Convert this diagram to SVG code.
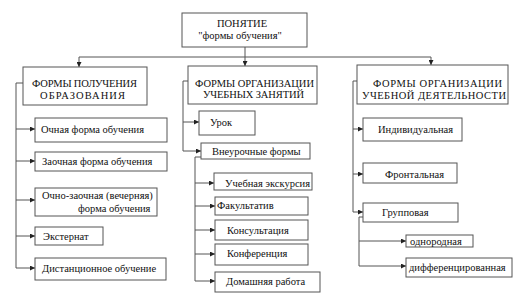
<svg xmlns="http://www.w3.org/2000/svg" width="516" height="300" viewBox="0 0 516 300">
<style>
.b{fill:#fff;stroke:#555;stroke-width:1}
.t{font-family:"Liberation Serif","DejaVu Serif",serif;font-size:10.5px;fill:#111}
.c{fill:none;stroke:#555;stroke-width:1}
</style>
<defs>
<marker id="ar" viewBox="0 0 6 6" refX="6" refY="3" markerWidth="5" markerHeight="5" orient="auto" markerUnits="userSpaceOnUse">
<path d="M0,0L6,3L0,6z" fill="#222"/>
</marker>
</defs>
<rect width="516" height="300" fill="#fff"/>
<g id="connectors">
<path class="c" d="M245,47V57"/>
<path class="c" d="M79,57H431"/>
<path class="c" d="M79,57V67" marker-end="url(#ar)"/>
<path class="c" d="M245,57V66" marker-end="url(#ar)"/>
<path class="c" d="M431,57V65" marker-end="url(#ar)"/>
<path class="c" d="M23,83H16V268"/>
<path class="c" d="M16,129H35" marker-end="url(#ar)"/>
<path class="c" d="M16,161H35" marker-end="url(#ar)"/>
<path class="c" d="M16,200H35" marker-end="url(#ar)"/>
<path class="c" d="M16,236H35" marker-end="url(#ar)"/>
<path class="c" d="M16,268H35" marker-end="url(#ar)"/>
<path class="c" d="M188,81H183V151"/>
<path class="c" d="M183,122H199" marker-end="url(#ar)"/>
<path class="c" d="M183,151H201" marker-end="url(#ar)"/>
<path class="c" d="M201,157H195V281"/>
<path class="c" d="M195,183H214" marker-end="url(#ar)"/>
<path class="c" d="M195,206H215" marker-end="url(#ar)"/>
<path class="c" d="M195,230H215" marker-end="url(#ar)"/>
<path class="c" d="M195,254H215" marker-end="url(#ar)"/>
<path class="c" d="M195,281H215" marker-end="url(#ar)"/>
<path class="c" d="M357,81H353V212"/>
<path class="c" d="M353,129H363" marker-end="url(#ar)"/>
<path class="c" d="M353,174H363" marker-end="url(#ar)"/>
<path class="c" d="M353,212H363" marker-end="url(#ar)"/>
<path class="c" d="M363,217H359V266"/>
<path class="c" d="M359,241H406" marker-end="url(#ar)"/>
<path class="c" d="M359,266H406" marker-end="url(#ar)"/>
</g>
<g id="root"><rect class="b" x="182" y="13" width="125" height="34"/>
<text class="t" x="242" y="27" text-anchor="middle">ПОНЯТИЕ</text>
<text class="t" x="240" y="39" text-anchor="middle">"формы  обучения"</text></g>
<g id="h1"><rect class="b" x="23" y="67" width="124" height="38"/>
<text class="t" x="32" y="87" textLength="105" lengthAdjust="spacing">ФОРМЫ ПОЛУЧЕНИЯ</text>
<text class="t" x="40" y="99" textLength="85" lengthAdjust="spacing">ОБРАЗОВАНИЯ</text></g>
<g id="h2"><rect class="b" x="188" y="66" width="129" height="38"/>
<text class="t" x="195" y="87" textLength="119" lengthAdjust="spacing">ФОРМЫ ОРГАНИЗАЦИИ</text>
<text class="t" x="203" y="98" textLength="101" lengthAdjust="spacing">УЧЕБНЫХ ЗАНЯТИЙ</text></g>
<g id="h3"><rect class="b" x="357" y="65" width="151" height="39"/>
<text class="t" x="373" y="87" textLength="129" lengthAdjust="spacing">ФОРМЫ ОРГАНИЗАЦИИ</text>
<text class="t" x="362" y="99" textLength="144" lengthAdjust="spacing">УЧЕБНОЙ ДЕЯТЕЛЬНОСТИ</text></g>
<g id="n1"><rect class="b" x="35" y="118" width="132" height="24"/><text class="t" x="41" y="133">Очная форма обучения</text></g>
<g id="n2"><rect class="b" x="35" y="152" width="132" height="19"/><text class="t" x="42" y="165">Заочная форма обучения</text></g>
<g id="n3"><rect class="b" x="35" y="188" width="122" height="28"/><text class="t" x="42" y="199">Очно-заочная (вечерняя)</text><text class="t" x="78" y="212">форма обучения</text></g>
<g id="n4"><rect class="b" x="35" y="227" width="68" height="18"/><text class="t" x="43" y="240">Экстернат</text></g>
<g id="n5"><rect class="b" x="35" y="258" width="131" height="22"/><text class="t" x="42" y="272">Дистанционное обучение</text></g>
<g id="m1"><rect class="b" x="199" y="111" width="56" height="24"/><text class="t" x="210" y="126">Урок</text></g>
<g id="m2"><rect class="b" x="201" y="143" width="109" height="16"/><text class="t" x="212" y="155">Внеурочные формы</text></g>
<g id="m3"><rect class="b" x="214" y="173" width="98" height="17"/><text class="t" x="225" y="187">Учебная экскурсия</text></g>
<g id="m4"><rect class="b" x="215" y="197" width="93" height="18"/><text class="t" x="217" y="209">Факультатив</text></g>
<g id="m5"><rect class="b" x="215" y="220" width="93" height="20"/><text class="t" x="227" y="234">Консультация</text></g>
<g id="m6"><rect class="b" x="215" y="244" width="93" height="21"/><text class="t" x="227" y="257">Конференция</text></g>
<g id="m7"><rect class="b" x="215" y="272" width="105" height="20"/><text class="t" x="226" y="285">Домашняя работа</text></g>
<g id="r1"><rect class="b" x="363" y="118" width="99" height="23"/><text class="t" x="378" y="133">Индивидуальная</text></g>
<g id="r2"><rect class="b" x="363" y="163" width="94" height="20"/><text class="t" x="385" y="178">Фронтальная</text></g>
<g id="r3"><rect class="b" x="363" y="203" width="95" height="19"/><text class="t" x="382" y="216">Групповая</text></g>
<g id="r4"><rect class="b" x="406" y="235" width="67" height="12"/><text class="t" x="410" y="245">однородная</text></g>
<g id="r5"><rect class="b" x="406" y="258" width="106" height="19"/><text class="t" x="409" y="271">дифференцированная</text></g>
</svg>
